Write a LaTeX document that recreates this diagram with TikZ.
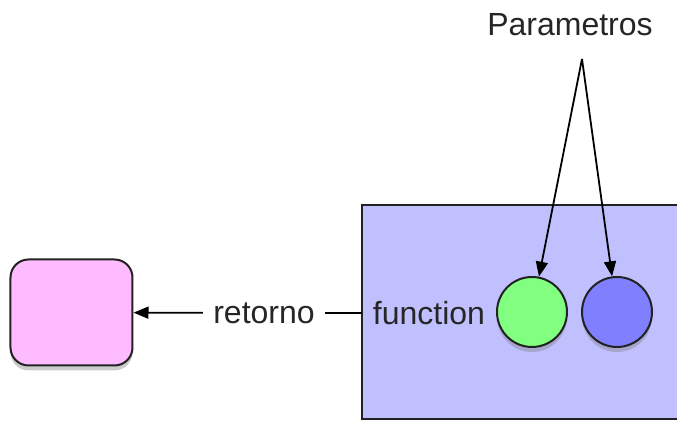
\documentclass[tikz,border=0pt]{standalone}
\usepackage{fontspec}
\setmainfont{Liberation Sans}
\usepackage{xcolor}
\usepackage{tikz}
\usetikzlibrary{arrows.meta,shadows}
\definecolor{pinkfill}{HTML}{FFBBFF}
\definecolor{boxfill}{HTML}{C0C0FF}
\definecolor{greenfill}{HTML}{80FF80}
\definecolor{bluefill}{HTML}{8080FF}
\definecolor{edge}{HTML}{222222}
\tikzset{
  shade/.style={drop shadow={shadow xshift=0pt, shadow yshift=-2.5pt, opacity=0.4}},
  resbox/.style={draw=edge, line width=1pt, fill=pinkfill, rounded corners=9pt,
    minimum width=61pt, minimum height=53pt, shade},
  funcbox/.style={draw=edge, line width=1pt, fill=boxfill},
  param/.style={circle, draw=edge, line width=1pt, minimum size=35pt, inner sep=0pt, shade},
  lab/.style={font=\fontsize{16}{19}\selectfont, text=black!85},
  conn/.style={line width=0.9pt, draw=black},
  tip/.style={-{Triangle[length=7.5pt, width=6pt]}}
}
\begin{document}
\begin{tikzpicture}[x=0.5pt, y=-0.5pt]
  \clip (0,0) rectangle (677,421);
  \fill[white] (0,0) rectangle (677,421);

  % function box, running off the right edge
  \draw[funcbox] (362,205) rectangle (690,419);
  \coordinate (fbox) at (362,313);
  \node[lab] (func) at (429,313) {function};

  % parameters
  \node[param, fill=greenfill] (p1) at (532,312) {};
  \node[param, fill=bluefill] (p2) at (617,312) {};
  \node[lab] (params) at (570,25) {Parametros};
  \coordinate (apex) at (582,59);
  \draw[conn, tip] (apex) -- (p1);
  \draw[conn, tip] (apex) -- (p2);

  % return value
  \node[resbox] (res) at (71.5,312.5) {};
  \node[lab, inner xsep=5pt] (ret) at (264,313) {retorno};
  \draw[conn, tip] (ret) -- (res);
  \draw[conn] (ret) -- (fbox);
\end{tikzpicture}
\end{document}
